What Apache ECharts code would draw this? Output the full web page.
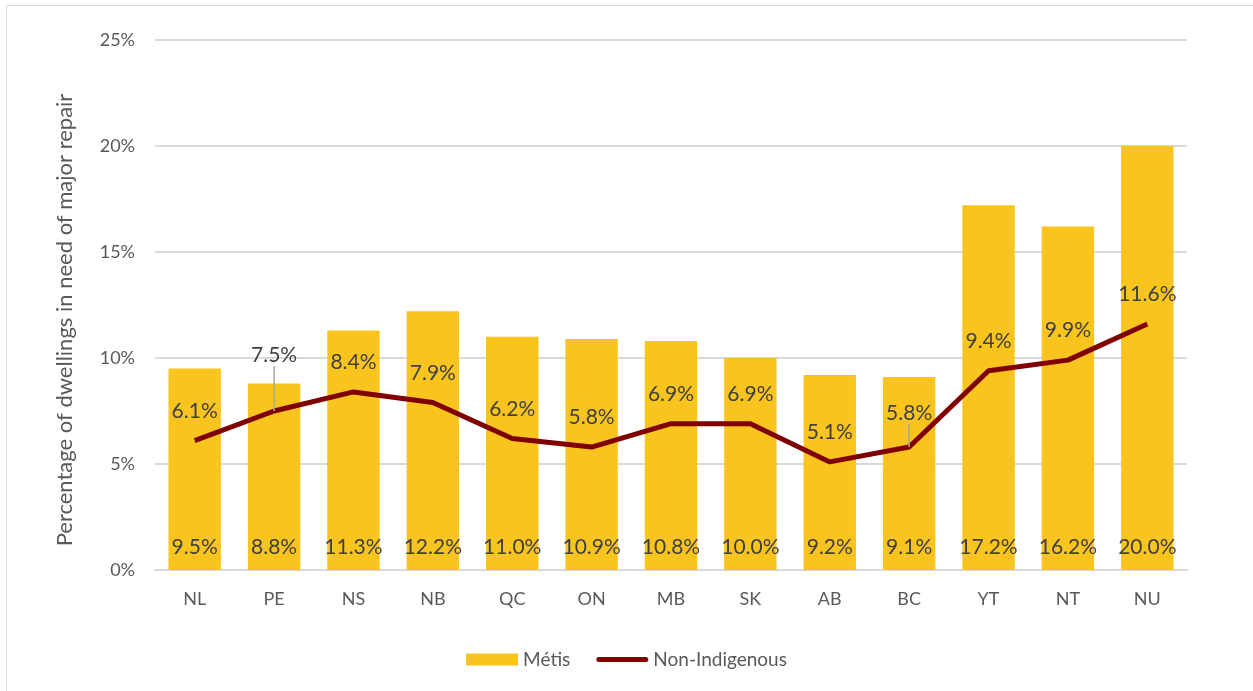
<!DOCTYPE html>
<html><head><meta charset="utf-8">
<script src="https://cdn.jsdelivr.net/npm/echarts@6/dist/echarts.min.js"></script>
<style>html,body{margin:0;padding:0;background:#fff}#c{width:1253px;height:691px}</style>
</head><body><div id="c"></div>
<script>
const categories = ['NL','PE','NS','NB','QC','ON','MB','SK','AB','BC','YT','NT','NU'];
const metis = [9.5, 8.8, 11.3, 12.2, 11.0, 10.9, 10.8, 10.0, 9.2, 9.1, 17.2, 16.2, 20.0];
const nonIndigenous = [6.1, 7.5, 8.4, 7.9, 6.2, 5.8, 6.9, 6.9, 5.1, 5.8, 9.4, 9.9, 11.6];
const yTicks = [0, 5, 10, 15, 20, 25];
const movedLabels = {1: -26, 9: -4};
const yTitle = 'Percentage of dwellings in need of major repair';

const FONT = 'Lato, "Open Sans", sans-serif';
const lineData = nonIndigenous.map((v, i) => movedLabels[i] !== undefined
  ? {value: v, labelLine: {show: true}} : {value: v});

const chart = echarts.init(document.getElementById('c'));
chart.setOption({
  animation: false,
  textStyle: {fontFamily: FONT},
  graphic: [
    {type: 'rect', shape: {x: 6.5, y: 5.5, width: 1300, height: 800}, style: {fill: 'none', stroke: '#d9d9d9', lineWidth: 1}, silent: true},
    {type: 'text', x: 65, y: 320, rotation: Math.PI / 2, silent: true,
      style: {text: yTitle, fill: '#595959', fontSize: 22, fontFamily: FONT, align: 'center', verticalAlign: 'middle'}}
  ],
  grid: {left: 155, right: 66, top: 40, bottom: 121},
  legend: {
    bottom: 17, left: 'center', itemGap: 26, itemWidth: 52, itemHeight: 12,
    textStyle: {color: '#595959', fontSize: 19, fontFamily: FONT},
    data: [
      {name: 'Métis', icon: 'rect'},
      {name: 'Non-Indigenous', icon: 'path://M2.5,3.5 L49.5,3.5 A2.5,2.5 0 0 1 49.5,8.5 L2.5,8.5 A2.5,2.5 0 0 1 2.5,3.5 Z M0,0 L0.01,0 L0.01,0.01 Z M52,12 L51.99,12 L51.99,11.99 Z'}
    ]
  },
  xAxis: {
    type: 'category', data: categories,
    axisLine: {lineStyle: {color: '#d9d9d9', width: 2}},
    axisTick: {show: false},
    axisLabel: {color: '#595959', fontSize: 18, margin: 20, fontFamily: FONT}
  },
  yAxis: {
    type: 'value', min: 0, max: 25, interval: 5,
    axisLine: {show: false}, axisTick: {show: false},
    axisLabel: {color: '#595959', fontSize: 18, margin: 20, fontFamily: FONT,
      formatter: v => yTicks.includes(v) ? v + '%' : ''},
    splitLine: {lineStyle: {color: '#d9d9d9', width: 2}}
  },
  series: [
    {
      name: 'Métis', type: 'bar', data: metis, barCategoryGap: '34%',
      itemStyle: {color: '#F9C41E'},
      label: {show: true, position: 'insideBottom', distance: 12, color: '#404040', fontSize: 21, fontFamily: FONT,
        formatter: p => p.value.toFixed(1) + '%'}
    },
    {
      name: 'Non-Indigenous', type: 'line', data: lineData,
      symbol: 'circle', symbolSize: 0.01, showSymbol: true,
      lineStyle: {color: '#800000', width: 5},
      itemStyle: {color: '#800000'},
      label: {show: true, position: 'top', distance: 19, color: '#404040', fontSize: 21, fontFamily: FONT,
        formatter: p => p.value.toFixed(1) + '%'},
      labelLine: {show: false, lineStyle: {color: '#a6a6a6', width: 1.5}},
      labelLayout: p => movedLabels[p.dataIndex] !== undefined ? {dy: movedLabels[p.dataIndex]} : {}
    }
  ]
});
</script></body></html>
